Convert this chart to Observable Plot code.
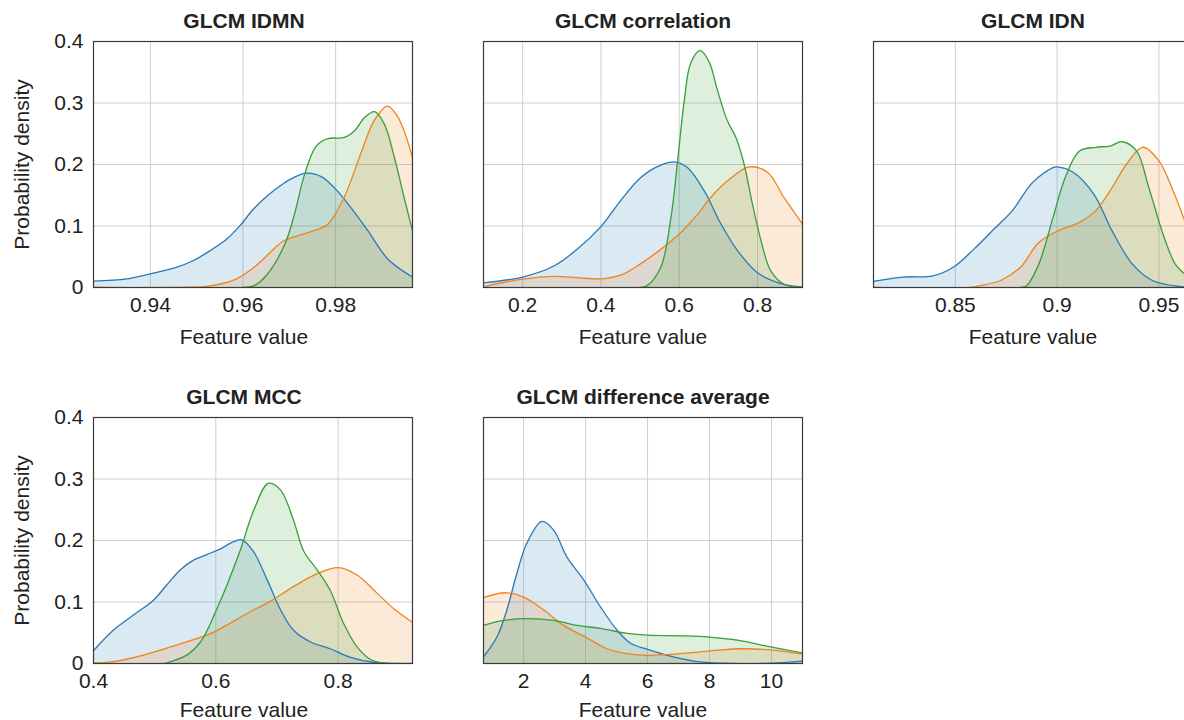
<!DOCTYPE html>
<html><head><meta charset="utf-8">
<script src="https://cdn.jsdelivr.net/npm/d3@7"></script>
<script src="https://cdn.jsdelivr.net/npm/@observablehq/plot@0.6"></script>
<style>
html,body{margin:0;padding:0;background:#fff;overflow:hidden;}
#root{position:relative;width:1300px;height:720px;font-family:"Liberation Sans",Arial,sans-serif;}
#root svg{position:absolute;max-width:none;background:transparent;overflow:visible;}
</style></head><body><div id="root"></div><script>
// ---- data ----
const titles = ["GLCM IDMN", "GLCM correlation", "GLCM IDN", "GLCM MCC", "GLCM difference average"];
const xDomains = [[0.9277, 0.9966], [0.1, 0.915], [0.8098, 0.9665], [0.4, 0.9216], [0.706, 11.0]];
const xTickValues = [[0.94, 0.96, 0.98], [0.2, 0.4, 0.6, 0.8], [0.85, 0.9, 0.95], [0.4, 0.6, 0.8], [2, 4, 6, 8, 10]];
const yTickValues = [0, 0.1, 0.2, 0.3, 0.4];
const xLabel = "Feature value";
const yLabel = "Probability density";

const idmnBlue = [[0.9277,0.0103],[0.9349,0.0141],[0.94,0.0222],[0.9457,0.033],[0.9493,0.0439],[0.9529,0.06],[0.9565,0.079],[0.9594,0.101],[0.9623,0.128],[0.9654,0.150],[0.9685,0.168],[0.971,0.179],[0.9737,0.186],[0.977,0.18],[0.98,0.160],[0.9833,0.13],[0.987,0.092],[0.9913,0.046],[0.9966,0.017]];
const idmnOrange = [[0.9277,0],[0.948,0.0005],[0.9523,0.002],[0.958,0.012],[0.9624,0.033],[0.9674,0.068],[0.9688,0.076],[0.9746,0.091],[0.9782,0.102],[0.9818,0.146],[0.9854,0.217],[0.9883,0.271],[0.9912,0.295],[0.9933,0.279],[0.995,0.25],[0.9966,0.211]];
const idmnGreen = [[0.9277,0],[0.960,0],[0.9624,0.003],[0.9653,0.022],[0.969,0.07],[0.9711,0.119],[0.9733,0.184],[0.9758,0.23],[0.9783,0.242],[0.9819,0.244],[0.9841,0.255],[0.9862,0.276],[0.9884,0.286],[0.9905,0.266],[0.9927,0.211],[0.9948,0.146],[0.9966,0.092]];

const corrBlue = [[0.1,0.0076],[0.2,0.017],[0.28,0.035],[0.339,0.062],[0.4,0.099],[0.45,0.141],[0.502,0.179],[0.553,0.199],[0.591,0.204],[0.621,0.195],[0.664,0.157],[0.706,0.104],[0.749,0.06],[0.8,0.024],[0.86,0.0065],[0.915,0.001]];
const corrOrange = [[0.1,0.0016],[0.2,0.0135],[0.28,0.018],[0.339,0.016],[0.4,0.014],[0.45,0.02],[0.5,0.038],[0.553,0.062],[0.6,0.087],[0.647,0.119],[0.68,0.146],[0.723,0.173],[0.779,0.196],[0.826,0.187],[0.868,0.146],[0.915,0.103]];
const corrGreen = [[0.1,0],[0.5,0],[0.518,0.003],[0.553,0.033],[0.579,0.114],[0.596,0.206],[0.613,0.304],[0.63,0.366],[0.654,0.385],[0.677,0.366],[0.698,0.32],[0.723,0.271],[0.745,0.244],[0.766,0.2],[0.787,0.136],[0.809,0.076],[0.834,0.027],[0.868,0.005],[0.915,0]];

const idnBlue = [[0.8098,0.01],[0.8245,0.017],[0.839,0.019],[0.849,0.033],[0.859,0.062],[0.869,0.095],[0.878,0.125],[0.888,0.171],[0.898,0.195],[0.9,0.196],[0.908,0.187],[0.918,0.152],[0.927,0.092],[0.937,0.038],[0.947,0.011],[0.962,0.001],[0.9665,0]];
const idnOrange = [[0.8098,0],[0.857,0],[0.862,0.003],[0.872,0.011],[0.882,0.033],[0.891,0.073],[0.901,0.093],[0.911,0.106],[0.919,0.125],[0.926,0.157],[0.934,0.2],[0.942,0.228],[0.95,0.206],[0.957,0.157],[0.962,0.114],[0.9665,0.075]];
const idnGreen = [[0.8098,0],[0.882,0],[0.885,0.003],[0.891,0.038],[0.898,0.114],[0.904,0.179],[0.911,0.222],[0.919,0.228],[0.926,0.23],[0.932,0.237],[0.939,0.222],[0.945,0.163],[0.952,0.087],[0.958,0.038],[0.962,0.024],[0.9665,0.012]];

const mccBlue = [[0.4,0.0207],[0.4327,0.0543],[0.4654,0.0788],[0.498,0.103],[0.52,0.128],[0.5417,0.152],[0.5635,0.168],[0.585,0.177],[0.607,0.186],[0.629,0.198],[0.6425,0.201],[0.6616,0.182],[0.684,0.136],[0.706,0.087],[0.727,0.054],[0.755,0.035],[0.787,0.024],[0.82,0.01],[0.858,0.002],[0.9216,0]];
const mccOrange = [[0.4,0.0005],[0.438,0.004],[0.4817,0.0136],[0.536,0.03],[0.585,0.046],[0.6,0.0527],[0.6616,0.087],[0.689,0.101],[0.727,0.125],[0.766,0.146],[0.8,0.156],[0.831,0.144],[0.864,0.114],[0.891,0.089],[0.9216,0.067]];
const mccGreen = [[0.4,0],[0.515,0],[0.52,0.001],[0.553,0.014],[0.575,0.035],[0.585,0.052],[0.596,0.076],[0.618,0.127],[0.64,0.184],[0.662,0.249],[0.686,0.293],[0.706,0.282],[0.727,0.233],[0.744,0.182],[0.766,0.152],[0.787,0.119],[0.809,0.065],[0.831,0.027],[0.853,0.0065],[0.88,0],[0.9216,0]];

const diffBlue = [[0.706,0.011],[1.14,0.043],[1.46,0.087],[1.78,0.146],[2.1,0.195],[2.59,0.231],[2.97,0.217],[3.4,0.173],[3.94,0.136],[4.48,0.092],[5.02,0.054],[5.45,0.033],[6.0,0.023],[6.74,0.012],[7.49,0.004],[8.36,0.0005],[9.97,0.0005],[11,0.004]];
const diffOrange = [[0.706,0.107],[1.41,0.115],[2.0,0.108],[2.65,0.087],[3.29,0.062],[4.0,0.043],[4.69,0.024],[5.34,0.016],[6.0,0.013],[6.74,0.015],[7.49,0.018],[8.36,0.022],[9.0,0.024],[9.97,0.022],[11,0.015]];
const diffGreen = [[0.706,0.062],[1.35,0.07],[2.1,0.073],[2.97,0.07],[3.72,0.062],[4.48,0.057],[5.34,0.049],[6.0,0.046],[7.06,0.045],[8.0,0.043],[8.9,0.038],[9.97,0.027],[11,0.017]];

const panelSeries = [
  [idmnBlue, idmnOrange, idmnGreen],
  [corrBlue, corrOrange, corrGreen],
  [idnBlue, idnOrange, idnGreen],
  [mccBlue, mccOrange, mccGreen],
  [diffBlue, diffOrange, diffGreen]
];
const seriesColors = ["#2a7ab9", "#f0841f", "#3a9f3a"];

// ---- layout ----
const FW = 319, FH = 246, ML = 93, MT = 41, MR = 20, MB = 75;
const frameLeft = [93, 483, 873, 93, 483];
const frameTop = [41, 41, 41, 417, 417];
const hasYAxis = [true, false, false, true, false];
const labelDy = [50, 50, 50, 47, 47];
const FONT = "'Liberation Sans', Arial, Helvetica, sans-serif";

const root = document.getElementById("root");
panelSeries.forEach((series, i) => {
  const marks = [
    Plot.ruleX(xTickValues[i], {stroke: "#cfcfcf", strokeWidth: 1}),
    Plot.ruleY(yTickValues, {stroke: "#cfcfcf", strokeWidth: 1})
  ];
  series.forEach((s, k) => {
    marks.push(Plot.areaY(s, {x: d => d[0], y: d => d[1], fill: seriesColors[k], fillOpacity: 0.17, curve: "catmull-rom", clip: true}));
  });
  series.forEach((s, k) => {
    marks.push(Plot.lineY(s, {x: d => d[0], y: d => d[1], stroke: seriesColors[k], strokeWidth: 1.3, curve: "catmull-rom", clip: true}));
  });
  marks.push(Plot.frame({stroke: "#3a3a3a", strokeWidth: 1.2}));
  const shift = hasYAxis[i] ? -9 : 0;
  marks.push(Plot.text([titles[i]], {frameAnchor: "top", lineAnchor: "middle", dy: -20, dx: shift, fontWeight: "bold", fontSize: 21, fill: "#222"}));
  marks.push(Plot.text([xLabel], {frameAnchor: "bottom", lineAnchor: "middle", dy: labelDy[i], dx: shift, fontSize: 21, fill: "#222"}));
  if (hasYAxis[i]) {
    marks.push(Plot.text([yLabel], {frameAnchor: "left", textAnchor: "middle", lineAnchor: "middle", dx: -71, rotate: -90, fontSize: 21, fill: "#222"}));
  }
  const svg = Plot.plot({
    width: ML + FW + MR,
    height: MT + FH + MB,
    marginLeft: ML, marginTop: MT, marginRight: MR, marginBottom: MB,
    style: {fontFamily: FONT, fontSize: "21px", color: "#222", background: "transparent", overflow: "visible"},
    x: {domain: xDomains[i], ticks: xTickValues[i], tickFormat: d => String(d), tickSize: 0, tickPadding: 10, label: null},
    y: {domain: [0, 0.4], ticks: yTickValues, tickFormat: d => String(d), tickSize: 0, tickPadding: 10, label: null, axis: hasYAxis[i] ? "left" : null},
    marks
  });
  svg.style.left = (frameLeft[i] - ML) + "px";
  svg.style.top = (frameTop[i] - MT) + "px";
  root.appendChild(svg);
});
</script></body></html>
